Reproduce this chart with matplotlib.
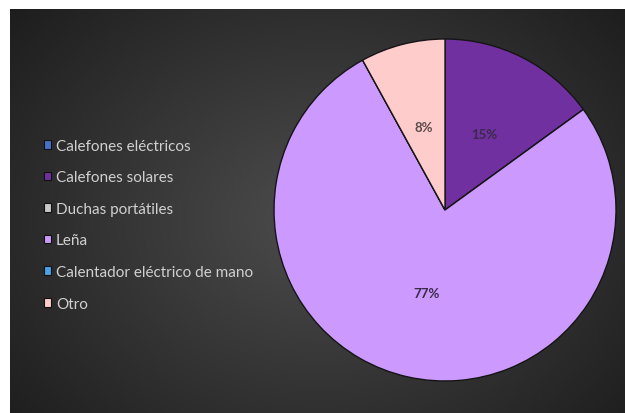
import numpy as np
import matplotlib
matplotlib.use('Agg')
import matplotlib.pyplot as plt
from matplotlib.patches import Patch

categories = ['Calefones eléctricos', 'Calefones solares', 'Duchas portátiles',
              'Leña', 'Calentador eléctrico de mano', 'Otro']
shares = [0, 15, 0, 77, 0, 8]
colors = ['#4472C4', '#7030A0', '#C8C8C8', '#CC99FF', '#4BA3E6', '#FFCCCC']

plt.rcParams['font.family'] = ['Lato', 'DejaVu Sans']

W, H = 625, 414
fig = plt.figure(figsize=(W / 100, H / 100), dpi=100, facecolor='white')

# dark radial gradient panel
bg = fig.add_axes([10 / W, 0, 615 / W, 404 / H])
yy, xx = np.mgrid[0:404, 0:615]
d = np.sqrt(((xx - 310) / 420.0) ** 2 + ((yy - 210) / 330.0) ** 2)
shade = np.clip(0.30 - 0.19 * d, 0.10, 0.30)
bg.imshow(np.dstack([shade, shade, shade]), aspect='auto', interpolation='bilinear')
bg.axis('off')

# pie
cx, cy, r = 445, 211, 171
ax = fig.add_axes([(cx - r) / W, (H - cy - r) / H, 2 * r / W, 2 * r / H])
ax.set_facecolor('none')


def pct(v):
    return '%d%%' % round(v) if v >= 1 else ''


wedges, texts, autotexts = ax.pie(
    shares, colors=colors, startangle=90, counterclock=False,
    autopct=pct, pctdistance=0.5,
    wedgeprops=dict(edgecolor='#151515', linewidth=1.0),
    textprops=dict(fontsize=9.5, color='#3a2a4a', fontweight='bold'))
autotexts[5].set_color('#5a4a4a')
ax.set_xlim(-1.0, 1.0)
ax.set_ylim(-1.0, 1.0)
ax.axis('off')

handles = [Patch(facecolor=c, edgecolor='#111111', linewidth=0.8) for c in colors]
leg = fig.legend(handles, categories, loc='upper left',
                 bbox_to_anchor=(30 / W, 1 - 126 / H), frameon=False,
                 fontsize=11, labelcolor='#d0d0d0', labelspacing=1.15,
                 handlelength=0.5, handleheight=0.5, handletextpad=0.3)

fig.savefig('out.png', dpi=100, facecolor='white')
